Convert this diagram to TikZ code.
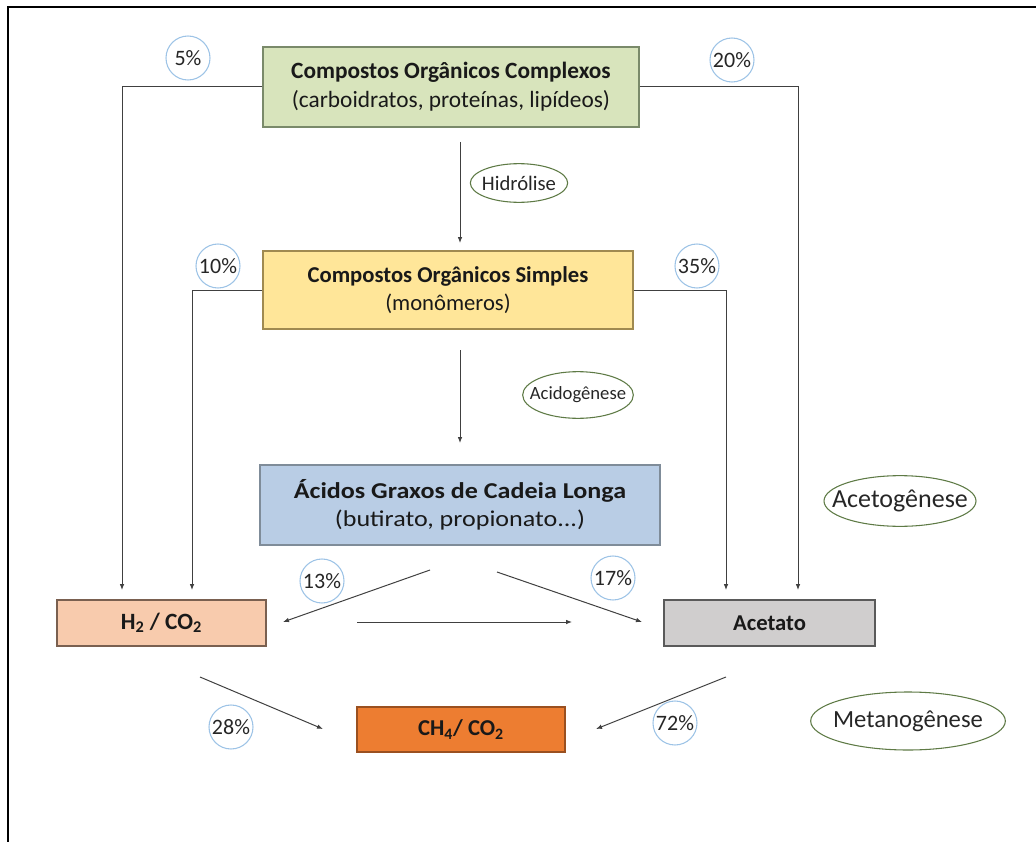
\documentclass[tikz,border=0pt]{standalone}
\usepackage{fontspec}
\setmainfont{Carlito}
\usepackage{graphicx}
\usetikzlibrary{arrows.meta,shapes.geometric}
\definecolor{gfill}{HTML}{D8E4BC}
\definecolor{gdraw}{HTML}{7A8A6A}
\definecolor{yfill}{HTML}{FFE699}
\definecolor{ydraw}{HTML}{A08A50}
\definecolor{bfill}{HTML}{B9CDE5}
\definecolor{bdraw}{HTML}{7F8C99}
\definecolor{pfill}{HTML}{F8CBAD}
\definecolor{pdraw}{HTML}{7A6050}
\definecolor{afill}{HTML}{D0CECE}
\definecolor{adraw}{HTML}{5A5A5A}
\definecolor{ofill}{HTML}{ED7D31}
\definecolor{odraw}{HTML}{9A5020}
\definecolor{circ}{HTML}{9DC3E6}
\definecolor{ell}{HTML}{5E7A45}
\definecolor{lin}{HTML}{404040}
\newcommand\fs[1]{\fontsize{#1}{1.25\dimexpr#1\relax}\selectfont}
\newcommand\zw[1]{\makebox[0pt][c]{#1}}
\tikzset{
  stagebox/.style={draw=#1, line width=1pt, rectangle, align=center, inner sep=2pt,
     text=black!90},
  pct/.style={circle, draw=circ, line width=0.8pt, minimum size=33pt, inner sep=0pt,
     font=\fs{16.5pt}, text=black!85},
  proc/.style={ellipse, draw=ell, line width=0.8pt, inner sep=0pt, text=black!85},
  conn/.style={draw=lin, line width=0.75pt},
  arr/.style={draw=lin, line width=0.75pt, -{Latex[length=4.5pt,width=3.5pt]}},
}
\begin{document}
\begin{tikzpicture}[x=0.75pt,y=-0.75pt]
\useasboundingbox (0,0) rectangle (1036,842);
% frame
\draw[line width=1.6pt] (8,842) -- (8,7) -- (1036,7);

% boxes
\node[stagebox=gdraw, fill=gfill, minimum width=282pt, minimum height=60pt, font=\fs{17.5pt}] (b1) at (451,87)
  {\textbf{Compostos Orgânicos Complexos}\\(carboidratos, proteínas, lipídeos)};
\node[stagebox=ydraw, fill=yfill, minimum width=277.5pt, minimum height=58.5pt, font=\fs{17pt}] (b2) at (448,290)
  {\textbf{Compostos Orgânicos Simples}\\(monômeros)};
\node[stagebox=bdraw, fill=bfill, minimum width=300pt, minimum height=60pt, font=\fs{17pt}] (b3) at (460,505)
  {\scalebox{1.15}[1]{\textbf{Ácidos Graxos de Cadeia Longa}}\\\scalebox{1.15}[1]{(butirato, propionato...)}};
\node[stagebox=pdraw, fill=pfill, minimum width=156.75pt, minimum height=34.5pt, font=\fs{17.5pt}] (h2) at (161.5,623)
  {\textbf{H\textsubscript{2} / CO\textsubscript{2}}};
\node[stagebox=adraw, fill=afill, minimum width=158.25pt, minimum height=34.5pt, font=\fs{17pt}] (ac) at (769.5,623)
  {\textbf{Acetato}};
\node[stagebox=odraw, fill=ofill, minimum width=156pt, minimum height=33.75pt, font=\fs{17pt}] (ch4) at (461,729.5)
  {\textbf{CH\textsubscript{4}/ CO\textsubscript{2}}};

% process ellipses
\node[proc, minimum width=73pt, minimum height=29pt, font=\fs{15.5pt}] (hid) at (519,183) {\zw{Hidrólise}};
\node[proc, minimum width=83pt, minimum height=35pt, font=\fs{14pt}] (acid) at (578,395) {\zw{Acidogênese}};
\node[proc, minimum width=114pt, minimum height=38pt, font=\fs{19.5pt}] (acet) at (900,501) {\zw{Acetogênese}};
\node[proc, minimum width=146pt, minimum height=43.5pt, font=\fs{18.5pt}] (met) at (908,721) {\zw{Metanogênese}};

% connector end points
\coordinate (h2a) at (122,590);
\coordinate (h2b) at (192,590);
\coordinate (aca) at (726,590);
\coordinate (acb) at (798,590);
\coordinate (v1s) at (460,142);
\coordinate (v1e) at (460,243);
\coordinate (v2s) at (460,350);
\coordinate (v2e) at (460,443);
\coordinate (d1s) at (430,570);
\coordinate (d1e) at (283,622);
\coordinate (d2s) at (497,572);
\coordinate (d2e) at (642,622);
\coordinate (hs) at (357,622);
\coordinate (he) at (572,622);
\coordinate (m1s) at (200,677);
\coordinate (m1e) at (323,729);
\coordinate (m2s) at (726,677);
\coordinate (m2e) at (596,729);

% connectors
\draw[arr] (b1.west) -| (h2a);
\draw[arr] (b1.east) -| (acb);
\draw[arr] (b2.west) -| (h2b);
\draw[arr] (b2.east) -| (aca);
\draw[arr] (v1s) -- (v1e);
\draw[arr] (v2s) -- (v2e);
\draw[arr] (d1s) -- (d1e);
\draw[arr] (d2s) -- (d2e);
\draw[arr] (hs) -- (he);
\draw[arr] (m1s) -- (m1e);
\draw[arr] (m2s) -- (m2e);

% percentages
\node[pct] (p5) at (188,58) {5\%};
\node[pct] (p20) at (732,60) {20\%};
\node[pct] (p10) at (218,266) {10\%};
\node[pct] (p35) at (697,266) {35\%};
\node[pct] (p13) at (322,581) {13\%};
\node[pct] (p17) at (613,578) {17\%};
\node[pct] (p28) at (231,727) {28\%};
\node[pct] (p72) at (675,723) {72\%};
\end{tikzpicture}
\end{document}
